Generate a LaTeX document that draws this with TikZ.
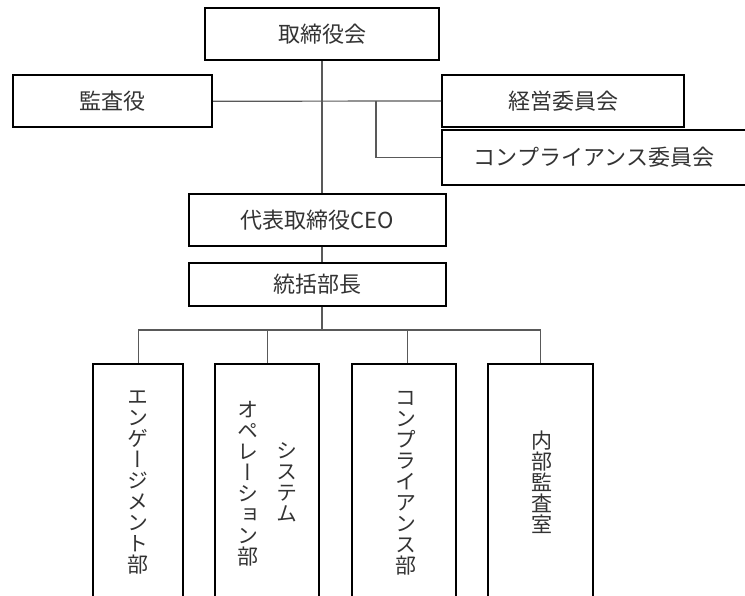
\documentclass[tikz,border=0pt]{standalone}
\usepackage{fontspec}
\setmainfont{Noto Sans CJK JP}
\newfontfamily\vfont[RawFeature=+vert]{Noto Sans CJK JP}
\begin{document}
\begin{tikzpicture}[x=1pt,y=-1pt,
  box/.style={draw=black, line width=2pt, fill=white, inner sep=0pt, text=black!80,
    font=\fontsize{22}{26}\selectfont},
  vbox/.style={draw=black, line width=2pt, fill=white, inner sep=0pt, text=black!80,
    align=center, font=\fontsize{21}{21}\vfont},
  vtext/.style={inner sep=0pt, text=black!80, align=center, font=\fontsize{21}{21}\vfont},
  conn/.style={draw=black!65, line width=1.2pt}]
\useasboundingbox (0,0) rectangle (745,596);
\clip (0,0) rectangle (745,596);
% upper part
\node[box, minimum width=234pt, minimum height=52pt] (t) at (322,34) {取締役会};
\node[box, minimum width=199.5pt, minimum height=52.5pt] (k) at (112.25,101.25) {監査役};
\node[box, minimum width=242pt, minimum height=52pt] (m) at (563,101) {経営委員会};
\node[box, minimum width=304pt, minimum height=55pt] (c) at (594,157.5) {コンプライアンス委員会};
\node[box, minimum width=257pt, minimum height=51.5pt] (ceo) at (317.5,220) {代表取締役CEO};
\node[box, minimum width=257pt, minimum height=42.5pt] (sk) at (317.5,284.5) {統括部長};
% departments
\node[vbox, minimum width=90pt, minimum height=238pt] (b1) at (138.3,483) {エ\\ン\\ゲ\\ー\\ジ\\メ\\ン\\ト\\部};
\node[vbox, minimum width=104pt, minimum height=238pt] (b2) at (267,483) {};
\node[vtext] (b2r) at (287.3,482) {シ\\ス\\テ\\ム};
\node[vtext] (b2l) at (248.3,483.5) {オ\\ペ\\レ\\ー\\シ\\ョ\\ン\\部};
\node[vbox, minimum width=104pt, minimum height=238pt] (b3) at (404.2,483) {};
\node[vtext] (b3t) at (406,483.5) {コ\\ン\\プ\\ラ\\イ\\ア\\ン\\ス\\部};
\node[vbox, minimum width=105.6pt, minimum height=238pt] (b4) at (540.5,483) {};
\node[vtext] (b4t) at (541.5,482.5) {内\\部\\監\\査\\室};
% connectors
\coordinate (bus) at (322,330);
\coordinate (br) at (376,101.5);
\draw[conn] (t.south) -- (t.south |- ceo.north);
\draw[conn] (t.south |- ceo.south) -- (t.south |- sk.north);
\draw[conn] (t.south |- sk.south) -- (bus);
\draw[conn] (k.east) -- (m.west);
\draw[conn] (br) |- (c.west);
\draw[conn] (b1.north |- bus) -- (b4.north |- bus);
\draw[conn] (b1.north |- bus) -- (b1.north);
\draw[conn] ([xshift=0.7pt]b2.north |- bus) -- ([xshift=0.7pt]b2.north);
\draw[conn] ([xshift=3pt]b3.north |- bus) -- ([xshift=3pt]b3.north);
\draw[conn] (b4.north |- bus) -- (b4.north);
\end{tikzpicture}
\end{document}
